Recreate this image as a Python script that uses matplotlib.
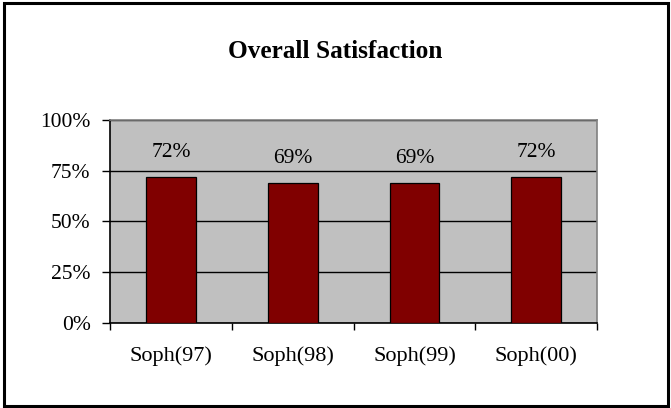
import numpy as np
import matplotlib
matplotlib.use("Agg")
import matplotlib.pyplot as plt
from matplotlib.patches import Rectangle

# Chart data
categories = ["Soph(97)", "Soph(98)", "Soph(99)", "Soph(00)"]
values = [72, 69, 69, 72]
y_ticks = [0, 25, 50, 75, 100]

plt.rcParams['font.family'] = ['Liberation Serif', 'DejaVu Serif']

fig = plt.figure(figsize=(6.71, 4.08), dpi=100)
fig.patch.set_facecolor('white')

# outer frame round the whole chart
fig.patches.append(Rectangle((0.006, 0.004), 0.989, 0.988, transform=fig.transFigure,
                             fill=False, edgecolor='black', linewidth=2.2))

ax = fig.add_axes([0.164, 0.2083, 0.726, 0.4977])
ax.set_facecolor('#C0C0C0')

x = np.arange(len(categories))
ax.bar(x, values, width=0.41, color='#800000', edgecolor='black', linewidth=0.9, zorder=3)

for xi, v in zip(x, values):
    ax.text(xi, v + 12, f"{v}%", ha='center', va='center', fontsize=15.5)

ax.set_xlim(-0.5, len(categories) - 0.5)
ax.set_ylim(0, 100)

ax.set_yticks(y_ticks)
ax.set_yticklabels([f"{t}%" for t in y_ticks], fontsize=15.5)
ax.yaxis.grid(True, color='black', linewidth=1.0, zorder=1)
ax.set_axisbelow(True)

# x ticks sit on category boundaries, labels sit in the middle
ax.set_xticks(np.arange(len(categories) + 1) - 0.5)
ax.set_xticklabels([])
ax.set_xticks(x, minor=True)
ax.set_xticklabels(categories, minor=True, fontsize=16)
ax.tick_params(axis='x', which='minor', length=0, pad=17)
ax.tick_params(axis='x', which='major', direction='out', length=5, width=1)
ax.tick_params(axis='y', direction='out', length=6, width=1, pad=8)

for side in ['top', 'right']:
    ax.spines[side].set_color('#808080')
    ax.spines[side].set_linewidth(1.2)
for side in ['left', 'bottom']:
    ax.spines[side].set_color('black')
    ax.spines[side].set_linewidth(1.2)

fig.text(0.5, 0.875, "Overall Satisfaction", ha='center', va='center',
         fontsize=18.2, fontweight='bold')

fig.savefig("out.png", dpi=100)
